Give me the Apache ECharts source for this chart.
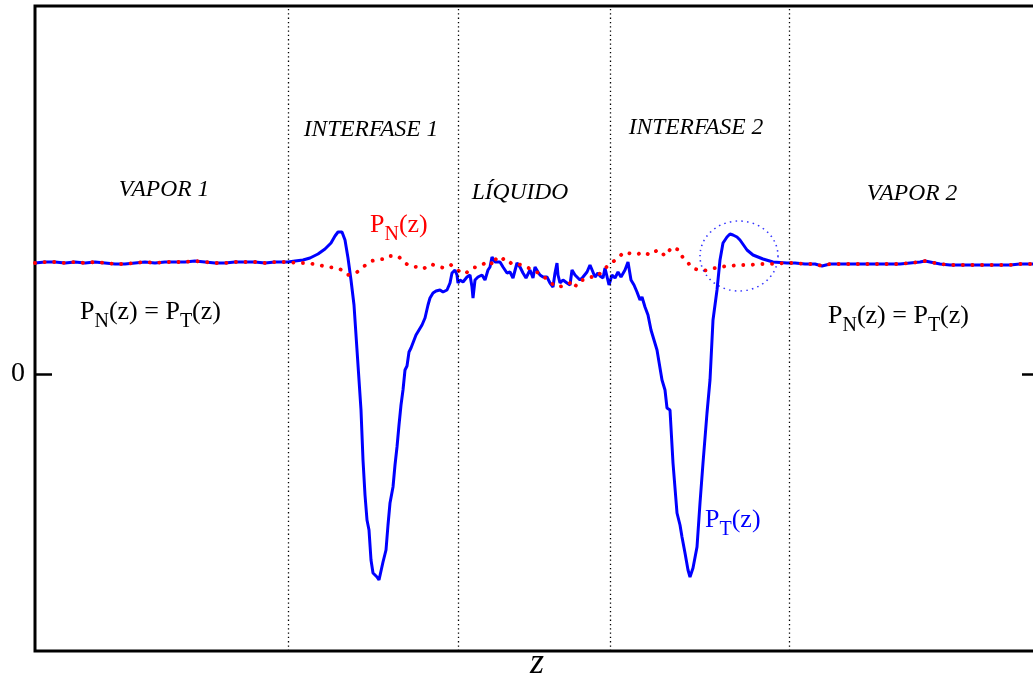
<!DOCTYPE html>
<html>
<head>
<meta charset="utf-8">
<script src="https://cdn.jsdelivr.net/npm/echarts@6/dist/echarts.min.js"></script>
<style>
  html, body { margin: 0; padding: 0; background: #fff; }
  #chart { width: 1033px; height: 684px; }
</style>
</head>
<body>
<div id="chart"></div>
<script>
// Pressure tensor profiles across a liquid slab: normal P_N(z) and tangential P_T(z)

// Tangential component P_T(z)
const zT = [
  0, 10, 20, 30, 40, 50, 60, 70, 80, 90, 100, 110, 120, 130, 140, 150, 160, 170, 180, 190, 200, 210, 220, 230, 240, 253,
  260, 268, 275, 283, 290, 296, 300, 303, 307, 310, 313, 316, 319, 322, 324, 326, 328, 330, 332, 334, 336, 338, 340, 342, 344, 346,
  348, 351, 353, 355, 358, 360, 362, 364, 366, 368, 370, 372, 374, 376, 378, 381, 384, 387, 390, 393, 395, 398, 401, 405, 408, 412,
  415, 417, 420, 422, 423, 425, 428, 432, 435, 437, 438, 440, 443, 447, 450, 453, 455, 457, 460, 462, 465, 468, 472, 475, 478, 480,
  482, 485, 488, 491, 495, 498, 500, 503, 505, 508, 512, 515, 518, 520, 522, 523, 525, 528, 532, 535, 537, 540, 542, 545, 548, 552,
  555, 557, 560, 563, 565, 568, 570, 572, 574, 577, 580, 583, 586, 590, 593, 596, 599, 602, 605, 607, 610, 613, 616, 619, 622, 625,
  627, 630, 632, 635, 638, 642, 645, 647, 650, 653, 655, 658, 662, 665, 668, 672, 675, 678, 682, 685, 688, 692, 695, 698, 702, 705,
  712, 718, 728, 738, 752,
  760, 770, 780, 787, 795, 805, 815, 825, 835, 845, 855, 865, 875, 885, 890, 895, 905, 915, 925, 935, 945, 955, 965, 975, 985, 998, 1004
];
const pT = [
  1.11, 1.12, 1.12, 1.11, 1.12, 1.11, 1.12, 1.11, 1.10, 1.10, 1.11, 1.12, 1.11, 1.12, 1.12, 1.12, 1.13, 1.12, 1.11, 1.11, 1.12, 1.12, 1.12, 1.11, 1.12, 1.12,
  1.13, 1.14, 1.16, 1.20, 1.25, 1.31, 1.38, 1.42, 1.42, 1.34, 1.16, 0.94, 0.69, 0.24, -0.06, -0.36, -0.86, -1.21, -1.46, -1.56, -1.86, -1.99, -2.01, -2.03, -2.06, -2.08,
  -1.88, -1.76, -1.51, -1.29, -1.13, -0.91, -0.73, -0.51, -0.31, -0.16, 0.04, 0.08, 0.22, 0.26, 0.28, 0.39, 0.44, 0.49, 0.56, 0.69, 0.76, 0.81, 0.83, 0.84, 0.82, 0.84,
  0.91, 1.01, 1.04, 0.99, 0.91, 0.94, 0.92, 0.97, 0.99, 0.87, 0.76, 0.94, 0.97, 0.99, 0.94, 1.04, 1.07, 1.17, 1.12, 1.11, 1.12, 1.07, 1.01, 1.02, 0.96, 0.94,
  1.11, 1.07, 1.01, 0.96, 1.04, 0.96, 1.07, 1.02, 0.99, 0.97, 0.97, 0.91, 0.87, 1.01, 1.11, 0.99, 0.91, 0.94, 0.91, 0.89, 1.04, 0.99, 0.97, 0.94, 0.97, 1.02,
  1.09, 1.07, 0.97, 1.01, 0.98, 0.96, 1.06, 1.04, 0.89, 0.99, 0.96, 1.02, 0.97, 1.04, 1.12, 0.94, 0.89, 0.82, 0.74, 0.77, 0.67, 0.59, 0.44, 0.34, 0.24, 0.06,
  -0.06, -0.16, -0.34, -0.36, -0.89, -1.39, -1.51, -1.63, -1.79, -1.96, -2.03, -1.94, -1.73, -1.29, -0.89, -0.39, -0.06, 0.54, 0.84, 1.14, 1.31, 1.37, 1.40, 1.39, 1.37, 1.34,
  1.24, 1.19, 1.15, 1.12, 1.11,
  1.11, 1.10, 1.10, 1.08, 1.10, 1.10, 1.10, 1.10, 1.10, 1.10, 1.10, 1.10, 1.11, 1.12, 1.13, 1.12, 1.10, 1.09, 1.09, 1.09, 1.09, 1.09, 1.09, 1.09, 1.10, 1.10, 1.10
];

// Normal component P_N(z)
const zN = [
  0, 10, 20, 30, 40, 50, 60, 70, 80, 90, 100, 110, 120, 130, 140, 150, 160, 170, 180, 190, 200, 210, 220, 230, 240, 253,
  262, 273, 283, 294, 305, 313, 321, 328, 336, 342, 348, 352, 358, 363, 370, 375, 382, 388, 396, 401, 409, 416, 422, 430, 437, 442,
  447, 450, 456, 459, 463, 470, 477, 483, 489, 498, 507, 515, 521, 529, 535, 539, 545, 549, 555, 562, 567, 576, 582, 589, 597, 603,
  608, 615, 621, 624, 630, 637, 644, 648, 651, 657, 667, 673, 684, 694, 704, 715, 725, 735, 751,
  760, 770, 780, 787, 795, 805, 815, 825, 835, 845, 855, 865, 875, 885, 890, 895, 905, 915, 925, 935, 945, 955, 965, 975, 985, 998, 1004
];
const pN = [
  1.11, 1.12, 1.12, 1.11, 1.12, 1.11, 1.12, 1.11, 1.10, 1.10, 1.11, 1.12, 1.11, 1.12, 1.12, 1.12, 1.13, 1.12, 1.11, 1.11, 1.12, 1.12, 1.12, 1.11, 1.12, 1.12,
  1.11, 1.11, 1.09, 1.07, 1.05, 0.99, 1.01, 1.07, 1.13, 1.14, 1.15, 1.18, 1.18, 1.18, 1.11, 1.08, 1.07, 1.05, 1.10, 1.08, 1.06, 1.09, 1.04, 1.00, 1.06, 1.07,
  1.09, 1.11, 1.09, 1.17, 1.12, 1.16, 1.10, 1.10, 1.08, 1.04, 0.99, 0.92, 0.87, 0.88, 0.91, 0.86, 0.94, 0.94, 0.97, 0.97, 1.03, 1.11, 1.15, 1.22, 1.20, 1.20,
  1.22, 1.19, 1.23, 1.24, 1.18, 1.27, 1.24, 1.16, 1.14, 1.06, 1.03, 1.04, 1.07, 1.08, 1.09, 1.09, 1.10, 1.10, 1.11,
  1.11, 1.10, 1.10, 1.08, 1.10, 1.10, 1.10, 1.10, 1.10, 1.10, 1.10, 1.10, 1.11, 1.12, 1.13, 1.12, 1.10, 1.09, 1.09, 1.09, 1.09, 1.09, 1.09, 1.09, 1.10, 1.10, 1.10
];

// Boundaries between the vapour, interface and liquid regions
const regionBounds = [253, 423, 575, 754];
// Region titles
const regionNames = ['VAPOR 1', 'INTERFASE 1', 'LÍQUIDO', 'INTERFASE 2', 'VAPOR 2'];
// Highlighted overshoot of P_T near interface 2
const highlight = [[704, 1.18]];

const yTicks = [0];
const SERIF = '"Liberation Serif", "DejaVu Serif", serif';

const chart = echarts.init(document.getElementById('chart'), null, { renderer: 'canvas' });

const pairs = (xs, ys) => xs.map((x, i) => [x, ys[i]]);

// label placement (pixels)
const regionLabelPos = [[164, 190], [371, 130], [520, 193], [696, 128], [912, 194]];

// Measuring context for laying out labels with subscripts
const measureCtx = document.createElement('canvas').getContext('2d');
const MAIN_SIZE = 26, SUB_SIZE = 20, SUB_DROP = 10;

// Build a label such as P_N(z) from pieces: [text, isSubscript]
function subLabel(x, y, pieces, color) {
  const children = [];
  let cx = 0;
  pieces.forEach(([txt, isSub]) => {
    const size = isSub ? SUB_SIZE : MAIN_SIZE;
    measureCtx.font = size + 'px ' + SERIF;
    const w = measureCtx.measureText(txt).width;
    children.push({
      type: 'text',
      x: cx,
      y: isSub ? SUB_DROP : 0,
      silent: true,
      style: {
        text: txt,
        fontFamily: SERIF,
        fontSize: size,
        fill: color,
        align: 'left',
        verticalAlign: 'middle'
      }
    });
    cx += w;
  });
  return { type: 'group', x: x, y: y, silent: true, children: children };
}

const graphics = regionNames.map((name, i) => ({
  type: 'text',
  x: regionLabelPos[i][0],
  y: regionLabelPos[i][1],
  style: {
    text: name,
    fontFamily: SERIF,
    fontStyle: 'italic',
    fontSize: 23.5,
    fill: '#000',
    align: 'center',
    verticalAlign: 'middle'
  },
  silent: true
}));

const equalPieces = [['P', false], ['N', true], ['(z) = P', false], ['T', true], ['(z)', false]];
graphics.push(
  subLabel(80, 312, equalPieces, '#000'),
  subLabel(828, 316, equalPieces, '#000'),
  subLabel(370, 225, [['P', false], ['N', true], ['(z)', false]], '#ff0000'),
  subLabel(705, 520, [['P', false], ['T', true], ['(z)', false]], '#0000ff')
);

const yAxisCommon = {
  type: 'value',
  min: -2.77,
  max: 3.68,
  axisLine: { show: false },
  splitLine: { show: false },
  axisTick: { show: true, inside: true, length: 17, customValues: yTicks, lineStyle: { color: '#000', width: 2.5 } }
};

const option = {
  animation: false,
  backgroundColor: '#fff',
  grid: {
    left: 35, top: 6, width: 1004, height: 645,
    outerBoundsMode: 'none',
    containLabel: false,
    show: true, borderColor: '#000', borderWidth: 3, backgroundColor: 'transparent'
  },
  xAxis: {
    type: 'value',
    min: 0,
    max: 1004,
    name: 'z',
    nameLocation: 'middle',
    nameGap: -5,
    nameTextStyle: { fontFamily: SERIF, fontStyle: 'italic', fontSize: 36, color: '#000' },
    axisLine: { show: false },
    axisTick: { show: false },
    axisLabel: { show: false },
    splitLine: { show: false }
  },
  yAxis: [
    Object.assign({}, yAxisCommon, {
      position: 'left',
      axisLabel: { show: true, customValues: yTicks, margin: 10, fontFamily: SERIF, fontSize: 28, color: '#000' }
    }),
    Object.assign({}, yAxisCommon, {
      position: 'right',
      axisLabel: { show: false }
    })
  ],
  graphic: graphics,
  series: [
    {
      name: 'P_T',
      type: 'line',
      data: pairs(zT, pT),
      showSymbol: false,
      symbol: 'none',
      lineStyle: { color: '#0000ff', width: 3 },
      z: 3,
      markLine: {
        silent: true,
        symbol: 'none',
        label: { show: false },
        lineStyle: { color: '#000', width: 1.3, type: [1.3, 3] },
        data: regionBounds.map(v => ({ xAxis: v }))
      }
    },
    {
      name: 'P_N',
      type: 'line',
      data: pairs(zN, pN),
      showSymbol: false,
      symbol: 'none',
      lineStyle: { color: '#ff0000', width: 3.8, type: [0.1, 9.5], cap: 'round' },
      z: 4
    },
    {
      name: 'highlight',
      type: 'scatter',
      data: highlight,
      symbol: 'circle',
      symbolSize: [78, 70],
      itemStyle: { color: 'transparent', borderColor: '#0000ff', borderWidth: 1.5, borderType: [1.5, 4] },
      silent: true,
      z: 5
    }
  ]
};

chart.setOption(option);
</script>
</body>
</html>
